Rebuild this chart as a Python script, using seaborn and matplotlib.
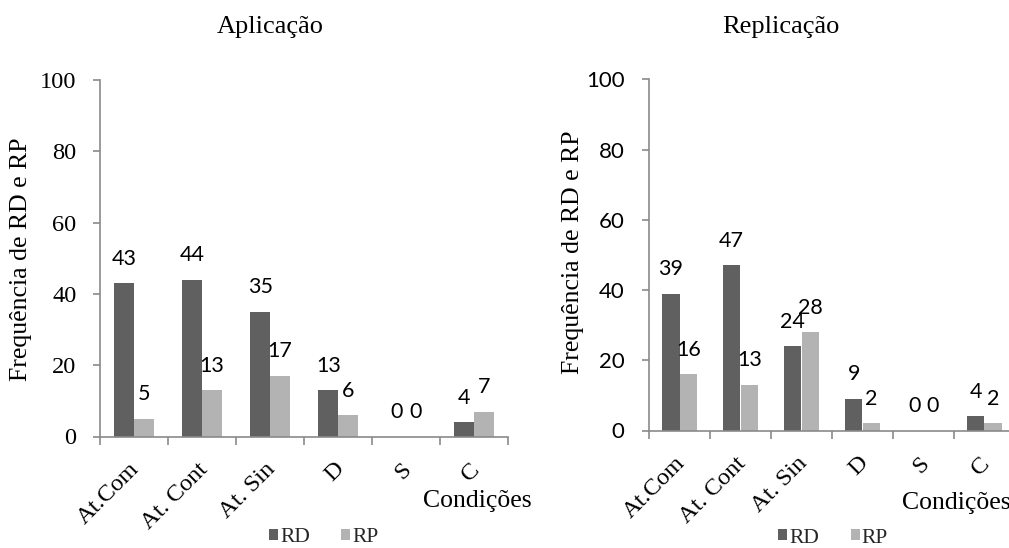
import numpy as np
import pandas as pd
import matplotlib
matplotlib.use("Agg")
import matplotlib.pyplot as plt
import matplotlib.transforms as mtransforms
import seaborn as sns

# ---- data ----
categories = ["At.Com", "At. Cont", "At. Sin", "D", "S", "C"]
series_names = ["RD", "RP"]
aplicacao_rd = [43, 44, 35, 13, 0, 4]
aplicacao_rp = [5, 13, 17, 6, 0, 7]
replicacao_rd = [39, 47, 24, 9, 0, 4]
replicacao_rp = [16, 13, 28, 2, 0, 2]
y_ticks = [0, 20, 40, 60, 80, 100]
titles = ["Aplicação", "Replicação"]
y_label = "Frequência de RD e RP"
x_label = "Condições"

def make_df(rd, rp):
    return pd.DataFrame({
        "Condição": categories * 2,
        "Série": [series_names[0]] * len(categories) + [series_names[1]] * len(categories),
        "Valor": list(rd) + list(rp),
    })

sns.set_theme(style="ticks")
plt.rcParams["font.family"] = ["Liberation Serif", "DejaVu Serif"]

SERIF = ["Liberation Serif", "DejaVu Serif"]
SANS = ["Lato", "DejaVu Sans"]
AX_COL = "#8a8a8a"
palette = {"RD": "#606060", "RP": "#b3b3b3"}

W, H = 1009, 548
fig = plt.figure(figsize=(W / 100, H / 100), dpi=100)

panels = [
    dict(df=make_df(aplicacao_rd, aplicacao_rp), title=titles[0],
         rect=[100 / W, (H - 436.5) / H, 408 / W, 356.5 / H],
         ytick_font=(SERIF, 17.6), ytick_pad=12,
         title_xy=(0.4167, 1.1318), ylab_xy=(-0.1667, 0.498),
         xlab_xy=(0.7917, -0.1978), leg_xy=(0.4142, -0.2847)),
    dict(df=make_df(replicacao_rd, replicacao_rp), title=titles[1],
         rect=[649 / W, (H - 430.5) / H, 366 / W, 351.2 / H],
         ytick_font=(SANS, 16), ytick_pad=12.5,
         title_xy=(0.3607, 1.1318), ylab_xy=(-0.1776, 0.508),
         xlab_xy=(0.6913, -0.2235), leg_xy=(0.3533, -0.3061)),
]

for p in panels:
    ax = fig.add_axes(p["rect"])
    sns.barplot(data=p["df"], x="Condição", y="Valor", hue="Série",
                order=categories, hue_order=series_names, palette=palette,
                saturation=1, width=0.574, gap=0, errorbar=None,
                linewidth=0, ax=ax)
    ax.set_xlim(-0.5, len(categories) - 0.5)
    ax.set_ylim(0, 100)
    ax.set_yticks(y_ticks)
    for side in ["top", "right"]:
        ax.spines[side].set_visible(False)
    for side in ["left", "bottom"]:
        ax.spines[side].set_color(AX_COL)
        ax.spines[side].set_linewidth(1.2)

    # y ticks
    ax.tick_params(axis="y", length=5, width=1.2, color=AX_COL,
                   pad=p["ytick_pad"])
    for t in ax.get_yticklabels():
        t.set_fontfamily(p["ytick_font"][0])
        t.set_fontsize(p["ytick_font"][1])
        t.set_color("black")

    # x ticks: marks at category boundaries, labels at centers
    ax.set_xticks(np.arange(-0.5, len(categories)), minor=True)
    ax.tick_params(axis="x", which="minor", length=5.5, width=1.2,
                   color=AX_COL, direction="out")
    ax.tick_params(axis="x", which="major", length=0, pad=16)
    ax.set_xticks(range(len(categories)))
    ax.set_xticklabels(categories, rotation=45, ha="right", va="top",
                       rotation_mode="anchor", fontfamily=SERIF,
                       fontsize=17.6, color="black")
    shift = mtransforms.ScaledTranslation(-0.05, 0, fig.dpi_scale_trans)
    for t in ax.get_xticklabels():
        t.set_transform(t.get_transform() + shift)

    # labels
    ax.set_xlabel("")
    ax.set_ylabel(y_label, fontfamily=SERIF, fontsize=18.5, color="black")
    ax.yaxis.set_label_coords(*p["ylab_xy"])
    ax.text(*p["xlab_xy"], x_label, transform=ax.transAxes, ha="left",
            va="baseline", fontfamily=SERIF, fontsize=18.5, color="black",
            clip_on=False)
    ax.text(*p["title_xy"], p["title"], transform=ax.transAxes, ha="center",
            va="baseline", fontfamily=SERIF, fontsize=19, color="black")

    # data labels
    for cont in ax.containers:
        ax.bar_label(cont, fmt="%g", padding=10.4, fontfamily=SANS,
                     fontsize=15.5, color="black")

    # legend
    sns.move_legend(ax, "center left", bbox_to_anchor=p["leg_xy"], ncol=2,
                    frameon=False, title=None, handlelength=0.42,
                    handleheight=0.42, handletextpad=0.1,
                    columnspacing=1.45, borderpad=0, borderaxespad=0,
                    prop={"family": SERIF, "size": 15.5})

fig.savefig("out.png", dpi=100)
